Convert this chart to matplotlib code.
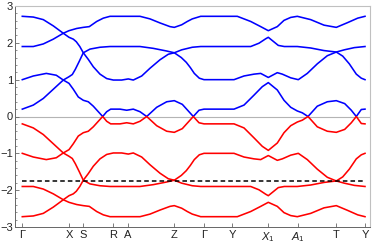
import matplotlib
matplotlib.use("Agg")
import matplotlib.pyplot as plt
from matplotlib.ticker import MultipleLocator

plt.rcParams['font.family'] = ['Liberation Sans', 'DejaVu Sans']
plt.rcParams['mathtext.fontset'] = 'custom'
plt.rcParams['mathtext.rm'] = 'Liberation Sans'
plt.rcParams['mathtext.it'] = 'Liberation Sans:italic'

# high-symmetry points along the k-path
tick_pos = [0, 46.7, 61, 91, 105.4, 152, 181.7, 210, 246, 276, 314, 342.7]
tick_labels = ["Γ", "X", "S", "R", "A", "Z", "Γ", "Y", "$X_1$", "$A_1$", "T", "Y"]

fermi_level = -1.74

# conduction-like bands (blue)
k1 = [0, 11, 21, 31, 41, 46.7, 50, 53, 57, 61, 67.7, 77.7, 87.7, 117.7, 131, 144, 152, 159, 164, 168, 172, 177, 181.7,
      211.7, 221.7, 231.7, 238.4, 246, 255, 260, 268.4, 276, 285, 295, 305, 314, 322, 332, 342.7]
b1 = [0.2, 0.31, 0.49, 0.74, 0.99, 1.08, 1.14, 1.28, 1.5, 1.73, 1.83, 1.88, 1.9, 1.9, 1.85, 1.78, 1.73, 1.6, 1.47, 1.33, 1.17, 1.04, 1.0,
      1.0, 1.1, 1.15, 1.17, 1.06, 1.19, 1.15, 1.05, 1.0, 1.17, 1.43, 1.65, 1.75, 1.81, 1.87, 1.9]

k2 = [0, 11, 24, 34, 41, 46.7, 51, 56, 61, 66, 71, 76, 80.4, 84.4, 88.4, 97.7, 104.4, 111, 117.7, 124.4, 134.4, 144.4, 152,
      160, 166, 171, 176.7, 181.7, 211.7, 221.7, 231.7, 240, 246, 255, 261.7, 268.4, 275, 280, 285.7, 295, 305, 314,
      322.4, 329, 334, 339, 342.7]
b2 = [1.0, 1.1, 1.17, 1.12, 0.99, 0.9, 0.74, 0.53, 0.44, 0.4, 0.28, 0.13, 0.0, 0.13, 0.2, 0.2, 0.17, 0.2, 0.13, 0.0, 0.25, 0.4, 0.43,
      0.33, 0.15, 0.0, 0.17, 0.2, 0.2, 0.31, 0.58, 0.81, 0.92, 0.72, 0.44, 0.25, 0.15, 0.1, 0.0, 0.28, 0.4, 0.43,
      0.35, 0.17, 0.0, 0.19, 0.2]

k3 = [0, 11, 21, 31, 41, 46.7, 54.4, 61, 67, 74.4, 81, 87.7, 117.7, 127.7, 137.7, 147.7, 152, 159.4, 165, 170, 178.4,
      215, 228.4, 238.4, 246, 255, 261.7, 268.4, 275, 288.4, 301.7, 314, 325.4, 335.4, 342.7]
b3 = [1.9, 1.9, 1.97, 2.1, 2.26, 2.33, 2.39, 2.42, 2.44, 2.58, 2.67, 2.72, 2.72, 2.65, 2.54, 2.44, 2.42, 2.49, 2.58, 2.65, 2.72,
      2.72, 2.58, 2.44, 2.33, 2.44, 2.61, 2.69, 2.72, 2.63, 2.48, 2.42, 2.55, 2.67, 2.72]

k4 = [0, 11, 21, 31, 41, 46.7, 51, 54, 57.5, 61, 66, 71, 77.7, 84.4, 91, 99.4, 106, 111, 119.4, 127.7, 137.7, 146, 152,
      159.4, 170, 178.4, 228.4, 236.7, 243.4, 246, 251, 256, 262, 275, 288.4, 301.7, 314, 320.4, 327, 334, 339, 342.7]
b4 = [2.72, 2.7, 2.63, 2.46, 2.26, 2.15, 2.1, 2.03, 1.9, 1.73, 1.55, 1.35, 1.15, 1.03, 0.99, 0.99, 1.02, 0.99, 1.1, 1.31, 1.54, 1.69, 1.73,
      1.81, 1.88, 1.9, 1.9, 1.99, 2.11, 2.15, 2.04, 1.93, 1.9, 1.9, 1.86, 1.79, 1.75, 1.64, 1.43, 1.15, 1.04, 1.0]

# valence-like bands (red)
r1 = [-0.2, -0.31, -0.49, -0.74, -0.99, -1.08, -1.14, -1.28, -1.5, -1.73, -1.83, -1.88, -1.9, -1.9, -1.85, -1.78, -1.73, -1.6, -1.47, -1.33, -1.17, -1.04, -1.0,
      -1.0, -1.1, -1.15, -1.17, -1.06, -1.19, -1.15, -1.05, -1.0, -1.17, -1.43, -1.65, -1.75, -1.81, -1.87, -1.9]
r2 = [-1.0, -1.1, -1.17, -1.12, -0.99, -0.9, -0.74, -0.53, -0.44, -0.4, -0.28, -0.13, 0.0, -0.13, -0.2, -0.2, -0.17, -0.2, -0.13, 0.0, -0.25, -0.4, -0.43,
      -0.33, -0.15, 0.0, -0.17, -0.2, -0.2, -0.31, -0.58, -0.81, -0.92, -0.72, -0.44, -0.25, -0.15, -0.1, 0.0, -0.28, -0.4, -0.43,
      -0.35, -0.17, 0.0, -0.19, -0.2]
r3 = [-1.9, -1.9, -1.97, -2.1, -2.26, -2.33, -2.39, -2.42, -2.44, -2.58, -2.67, -2.72, -2.72, -2.65, -2.54, -2.44, -2.42, -2.49, -2.58, -2.65, -2.72,
      -2.72, -2.58, -2.44, -2.33, -2.44, -2.61, -2.69, -2.72, -2.63, -2.48, -2.42, -2.55, -2.67, -2.72]
r4 = [-2.72, -2.7, -2.63, -2.46, -2.26, -2.15, -2.1, -2.03, -1.9, -1.73, -1.55, -1.35, -1.15, -1.03, -0.99, -0.99, -1.02, -0.99, -1.1, -1.31, -1.54, -1.69, -1.73,
      -1.81, -1.88, -1.9, -1.9, -1.99, -2.11, -2.15, -2.04, -1.93, -1.9, -1.9, -1.86, -1.79, -1.75, -1.64, -1.43, -1.15, -1.04, -1.0]

fig = plt.figure(figsize=(3.74, 2.44), dpi=100)
ax = fig.add_axes([15/374, 17/244, 355/374, 221/244])

ax.axhline(0, color='#b4b4b4', lw=0.8, zorder=1)

lw = 1.15
for k, b in [(k1, b1), (k2, b2), (k3, b3), (k4, b4)]:
    ax.plot(k, b, color=(0, 0, 1), lw=lw, zorder=3, solid_joinstyle='round')
for k, r in [(k1, r1), (k2, r2), (k3, r3), (k4, r4)]:
    ax.plot(k, r, color=(1, 0, 0), lw=lw, zorder=3, solid_joinstyle='round')

ax.plot([tick_pos[0], tick_pos[-1]], [fermi_level, fermi_level], color='black', lw=1.1,
        dashes=(3, 2), zorder=4)

ax.set_xlim(-7.3, 347.7)
ax.set_ylim(-3, 3)
ax.set_xticks(tick_pos)
ax.set_xticklabels(tick_labels)
ax.yaxis.set_major_locator(MultipleLocator(1))
ax.yaxis.set_minor_locator(MultipleLocator(0.2))
ax.set_yticklabels([])
ax.set_yticks([-3, -2, -1, 0, 1, 2, 3])
ax.set_yticklabels(["−3", "−2", "−1", "0", "1", "2", "3"])

ax.tick_params(axis='both', which='major', direction='in', length=3.0, width=0.6,
               color='#666666', labelsize=8, labelcolor='#222222')
ax.tick_params(axis='y', which='minor', direction='in', length=1.6, width=0.5, color='#666666')
ax.tick_params(axis='x', pad=2)
ax.tick_params(axis='y', pad=1.5)

for side in ['left', 'bottom']:
    ax.spines[side].set_color('#666666')
    ax.spines[side].set_linewidth(0.7)
for side in ['top', 'right']:
    ax.spines[side].set_color('#c0c0c0')
    ax.spines[side].set_linewidth(0.8)

fig.savefig("out.png", dpi=100)
